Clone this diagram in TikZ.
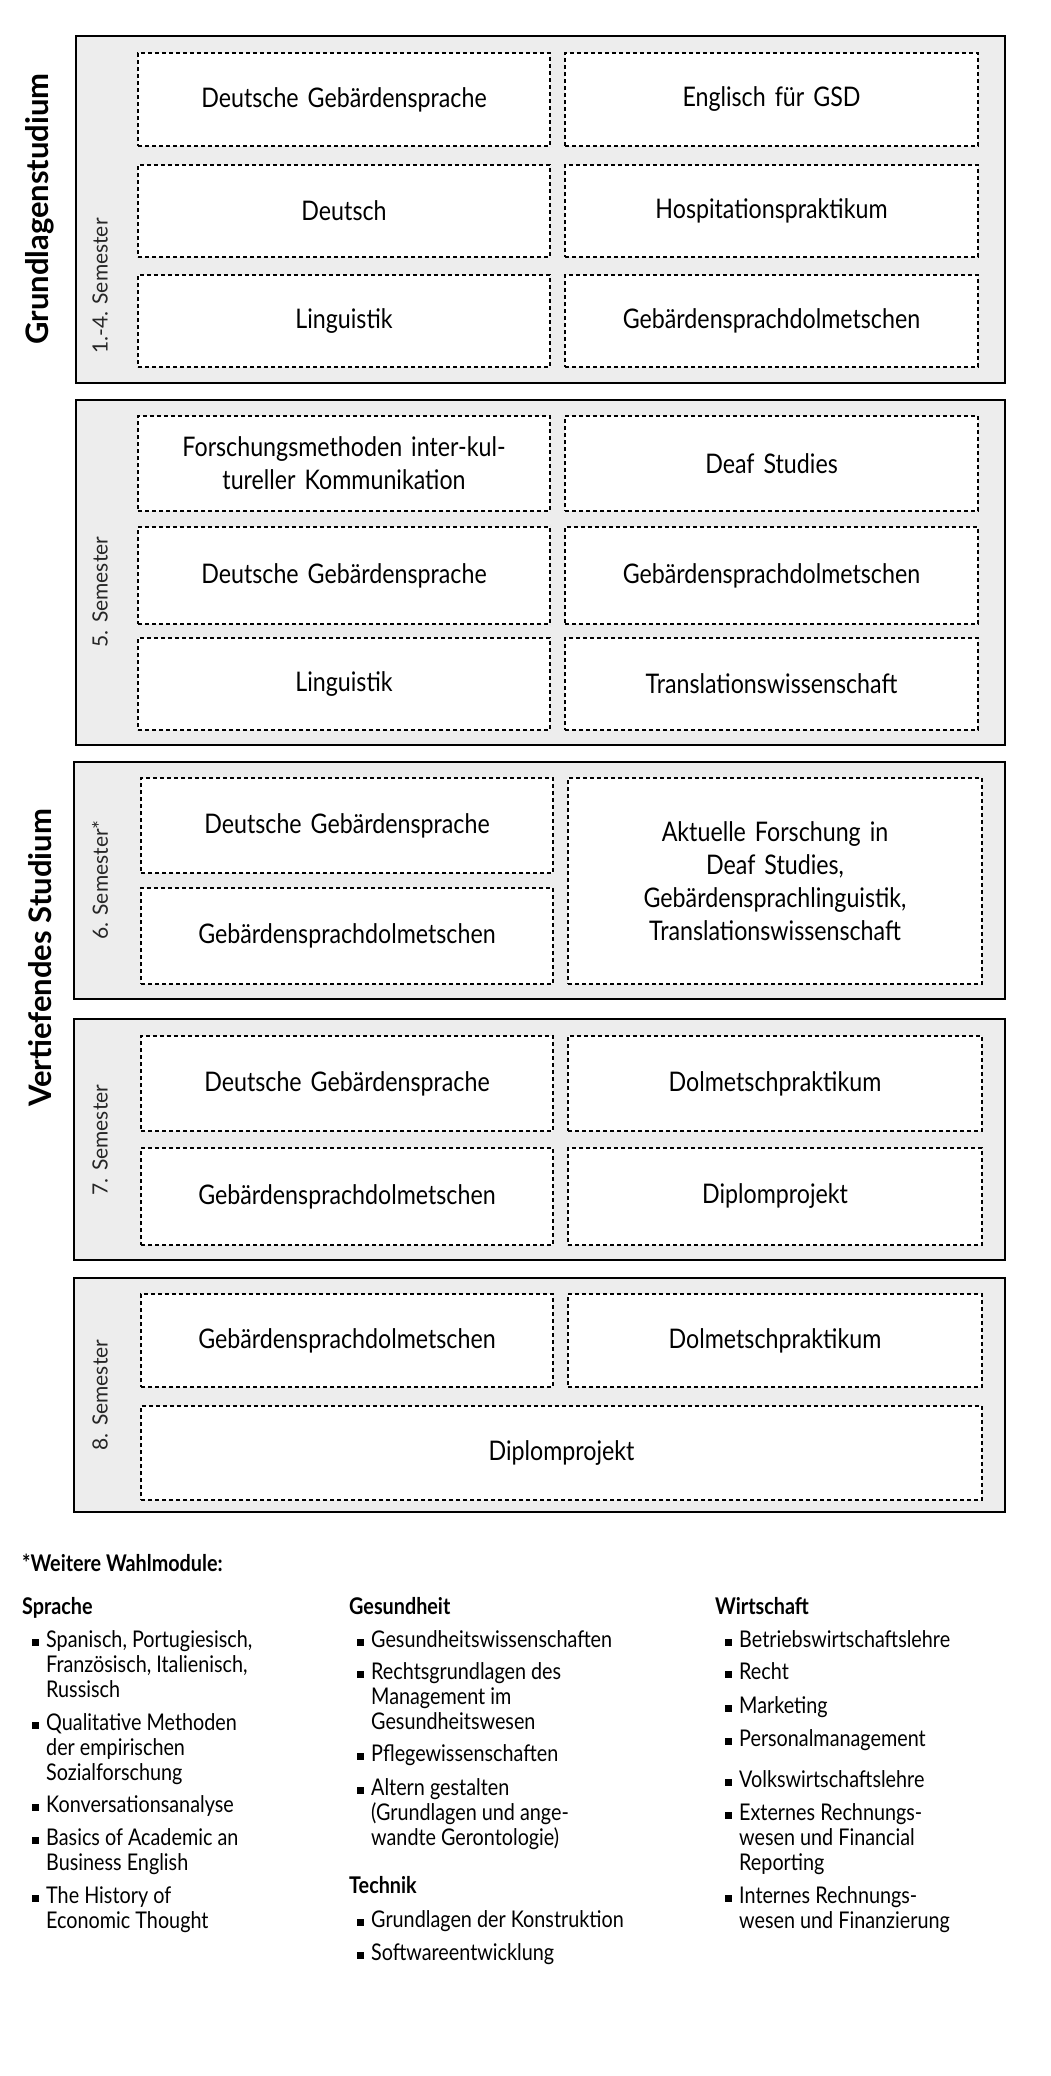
\documentclass[tikz,border=0pt]{standalone}
\usepackage{fontspec}
\setmainfont{Lato}[FakeStretch=0.86]
\newfontfamily\labfont{Lato}
\definecolor{panel}{HTML}{EDEDED}
\tikzset{
  mod/.style={draw, line width=1.6pt, dash pattern=on 4pt off 3pt, fill=white, inner sep=0pt, outer sep=0pt, align=center, font=\fontsize{27}{33}\selectfont},
  panelbox/.style={draw, line width=2pt, fill=panel},
  semlab/.style={rotate=90, font=\labfont\fontsize{21}{24}\selectfont, text=black!85},
  grplab/.style={rotate=90, font=\labfont\bfseries\fontsize{31}{36}\selectfont},
  item/.style={anchor=north west, inner sep=0pt, align=left, font=\fontsize{23}{25}\selectfont},
  head/.style={anchor=north west, inner sep=0pt, font=\bfseries\fontsize{23}{25}\selectfont},
  bul/.style={fill=black, minimum size=7pt, inner sep=0pt}
}
\newcommand\modbox[6]{%
  \pgfmathsetmacro\cx{(#2+#4)/2}\pgfmathsetmacro\cy{(#3+#5)/2}%
  \pgfmathsetmacro\ww{#4-#2}\pgfmathsetmacro\hh{#5-#3}%
  \node[mod, minimum width=\ww pt, minimum height=\hh pt, text width=\ww pt-16pt] (#1) at (\cx,\cy) {#6};}
\newcommand\bitem[4]{% name, x, y, text
  \node[bul] (#1b) at (#2-11,#3+12) {};
  \node[item] (#1) at (#2,#3) {#4};}
\begin{document}
\begin{tikzpicture}[x=1pt,y=-1pt]
\useasboundingbox[fill=white] (0,0) rectangle (1050,2076);
% panels
\node[panelbox, minimum width=929pt, minimum height=347pt] (p1) at (540.5,209.5) {};
\node[panelbox, minimum width=929pt, minimum height=345pt] (p2) at (540.5,572.5) {};
\node[panelbox, minimum width=931pt, minimum height=237pt] (p3) at (539.5,880.5) {};
\node[panelbox, minimum width=931pt, minimum height=241pt] (p4) at (539.5,1139.5) {};
\node[panelbox, minimum width=931pt, minimum height=234pt] (p5) at (539.5,1395) {};
% group labels
\node[grplab] (g1) at (40,209) {Grundlagenstudium};
\node[grplab] (g2) at (40,958) {Vertiefendes Studium};
% semester labels
\node[semlab] (s1) at (100,286) {1.-4. Semester};
\node[semlab] (s2) at (100,592) {5. Semester};
\node[semlab] (s3) at (100,880) {6. Semester*};
\node[semlab] (s4) at (100,1140) {7. Semester};
\node[semlab] (s5) at (100,1395) {8. Semester};
% panel 1
\modbox{a1}{138}{53}{550}{146}{Deutsche Gebärdensprache}
\modbox{a2}{565}{53}{978}{146}{Englisch für GSD}
\modbox{a3}{138}{165}{550}{257}{Deutsch}
\modbox{a4}{565}{165}{978}{257}{Hospitationspraktikum}
\modbox{a5}{138}{275}{550}{367}{Linguistik}
\modbox{a6}{565}{275}{978}{367}{Gebärdensprachdolmetschen}
% panel 2
\modbox{b1}{138}{416}{550}{511}{Forschungsmethoden inter-kul-\\tureller Kommunikation}
\modbox{b2}{565}{416}{978}{511}{Deaf Studies}
\modbox{b3}{138}{527}{550}{624}{Deutsche Gebärdensprache}
\modbox{b4}{565}{527}{978}{624}{Gebärdensprachdolmetschen}
\modbox{b5}{138}{638}{550}{730}{Linguistik}
\modbox{b6}{565}{638}{978}{730}{Translationswissenschaft}
% panel 3
\modbox{c1}{141}{778}{553}{873}{Deutsche Gebärdensprache}
\modbox{c2}{141}{888}{553}{984}{Gebärdensprachdolmetschen}
\modbox{c3}{568}{778}{982}{984}{Aktuelle Forschung in\\Deaf Studies,\\Gebärdensprachlinguistik,\\Translationswissenschaft}
% panel 4
\modbox{d1}{141}{1036}{553}{1131}{Deutsche Gebärdensprache}
\modbox{d2}{568}{1036}{982}{1131}{Dolmetschpraktikum}
\modbox{d3}{141}{1148}{553}{1245}{Gebärdensprachdolmetschen}
\modbox{d4}{568}{1148}{982}{1245}{Diplomprojekt}
% panel 5
\modbox{e1}{141}{1294}{553}{1387}{Gebärdensprachdolmetschen}
\modbox{e2}{568}{1294}{982}{1387}{Dolmetschpraktikum}
\modbox{e3}{141}{1406}{982}{1500}{Diplomprojekt}
% footer
\node[head] (wt) at (22,1554) {*Weitere Wahlmodule:};
\node[head] (h1) at (22,1597) {Sprache};
\node[head] (h2) at (349,1597) {Gesundheit};
\node[head] (h3) at (715,1597) {Wirtschaft};
\bitem{i1}{46}{1630}{Spanisch, Portugiesisch,\\Französisch, Italienisch,\\Russisch}
\bitem{i2}{46}{1713}{Qualitative Methoden\\der empirischen\\Sozialforschung}
\bitem{i3}{46}{1795}{Konversationsanalyse}
\bitem{i4}{46}{1828}{Basics of Academic an\\Business English}
\bitem{i5}{46}{1886}{The History of\\Economic Thought}
\bitem{j1}{371}{1630}{Gesundheitswissenschaften}
\bitem{j2}{371}{1662}{Rechtsgrundlagen des\\Management im\\Gesundheitswesen}
\bitem{j3}{371}{1744}{Pflegewissenschaften}
\bitem{j4}{371}{1778}{Altern gestalten\\(Grundlagen und ange-\\wandte Gerontologie)}
\node[head] (h4) at (349,1876) {Technik};
\bitem{j5}{371}{1910}{Grundlagen der Konstruktion}
\bitem{j6}{371}{1943}{Softwareentwicklung}
\bitem{k1}{739}{1630}{Betriebswirtschaftslehre}
\bitem{k2}{739}{1662}{Recht}
\bitem{k3}{739}{1696}{Marketing}
\bitem{k4}{739}{1729}{Personalmanagement}
\bitem{k5}{739}{1770}{Volkswirtschaftslehre}
\bitem{k6}{739}{1803}{Externes Rechnungs-\\wesen und Financial\\Reporting}
\bitem{k7}{739}{1886}{Internes Rechnungs-\\wesen und Finanzierung}
\end{tikzpicture}
\end{document}
